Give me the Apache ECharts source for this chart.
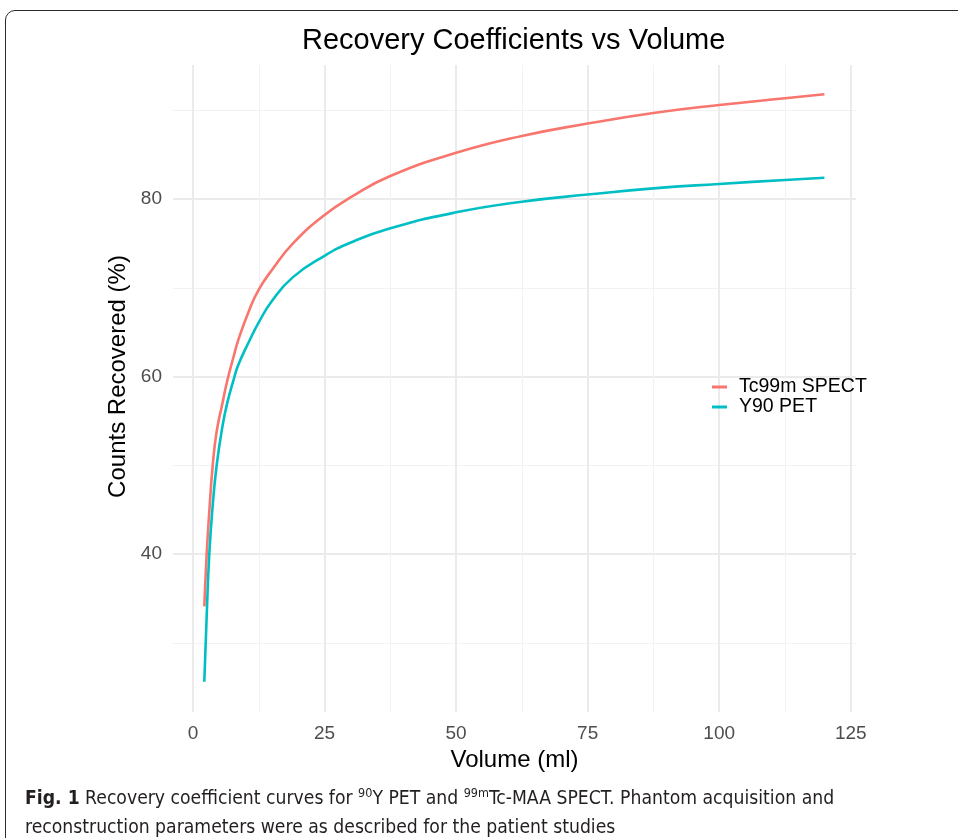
<!DOCTYPE html>
<html>
<head>
<meta charset="utf-8">
<script src="https://cdn.jsdelivr.net/npm/echarts@6/dist/echarts.min.js"></script>
<style>
  html, body { margin: 0; padding: 0; background: #fff; overflow: hidden; }
  .frame {
    position: absolute; left: 5px; top: 10px; width: 1000px; height: 900px;
    border: 1.5px solid #2b2b2b; border-radius: 10px;
  }
  #chart { position: absolute; left: 0; top: 0; width: 958px; height: 838px; }
  .caption {
    position: absolute; left: 25px; top: 783px;
    font-family: 'Liberation Sans Narrow', 'DejaVu Sans Condensed', 'Liberation Sans', sans-serif;
    font-stretch: condensed;
    font-size: 19.2px; line-height: 29px; color: #231f20; white-space: nowrap;
  }
  .caption b { font-weight: bold; }
  .caption sup { font-size: 12.5px; vertical-align: 7px; line-height: 0; }
</style>
</head>
<body>
<div class="frame"></div>
<div id="chart"></div>
<div class="caption"><b>Fig. 1</b> Recovery coefficient curves for <sup>90</sup>Y PET and <sup>99m</sup>Tc-MAA SPECT. Phantom acquisition and<br>reconstruction parameters were as described for the patient studies</div>
<script>
// volume (ml) and counts recovered (%)
const volumes = [2.15, 2.6, 3.1, 3.75, 4.5, 5.6, 6.5, 7.7, 8.6, 10.7, 12.5, 15, 19, 25, 30, 37.5, 50, 62.5, 75, 87.5, 100, 112.5, 120]
const tcSpect = [34.1, 40, 44.8, 50, 53.8, 57, 59.5, 62.2, 64.1, 67.5, 69.8, 72.0, 75.0, 78.2, 80.2, 82.6, 85.2, 87.1, 88.5, 89.7, 90.6, 91.35, 91.8]
const y90Pet = [25.6, 33, 40, 45.5, 50, 54.4, 57, 59.6, 61.3, 64.0, 66.1, 68.5, 71.2, 73.6, 75.1, 76.7, 78.5, 79.7, 80.5, 81.2, 81.7, 82.15, 82.4]

const seriesNames = ['Tc99m SPECT', 'Y90 PET']
const xTicks = [0, 25, 50, 75, 100, 125]
const xMinorTicks = [12.5, 37.5, 62.5, 87.5, 112.5]
const yTicks = [40, 60, 80]
const yMinorTicks = [30, 50, 70, 90]

const chart = echarts.init(document.getElementById('chart'))
const font = "'Liberation Sans', Arial, sans-serif"
const gridMajor = '#ebebeb'
const gridMinor = '#f2f2f2'

function axisPair(min, max, major, minor, isX, name) {
  const base = {
    type: 'value', min: min, max: max,
    axisLine: { show: false },
    splitLine: { show: true }
  }
  return [
    Object.assign({}, base, {
      name: name,
      nameLocation: 'middle',
      nameGap: isX ? 35 : 32,
      // the y title sits a little above the panel centre in the original
      nameTextStyle: { fontFamily: font, fontSize: 24, color: '#000', padding: isX ? 0 : [0, 0, 0, 24] },
      axisTick: { show: false, customValues: major },
      axisLabel: { customValues: major, margin: isX ? 12 : 11, fontFamily: font, fontSize: 19, color: '#4d4d4d' },
      splitLine: { show: true, lineStyle: { color: gridMajor, width: 2 } }
    }),
    Object.assign({}, base, {
      axisTick: { show: false, customValues: minor },
      axisLabel: { show: false },
      splitLine: { show: true, lineStyle: { color: gridMinor, width: 1 } }
    })
  ]
}

const pairs = (ys) => volumes.map((v, i) => [v, ys[i]])

chart.setOption({
  animation: false,
  title: {
    text: 'Recovery Coefficients vs Volume',
    left: 297, top: 21,
    textStyle: { fontFamily: font, fontSize: 29, fontWeight: 'normal', color: '#000' }
  },
  grid: { left: 173, right: 102, top: 65, bottom: 126, outerBoundsMode: 'none' },
  legend: {
    data: seriesNames,
    orient: 'vertical',
    left: 707, top: 372,
    itemWidth: 15, itemHeight: 3, itemGap: 0,
    icon: 'rect',
    textStyle: { fontFamily: font, fontSize: 19.5, lineHeight: 18, color: '#000', padding: [0, 0, 0, 7] }
  },
  xAxis: axisPair(-3.8, 126, xTicks, xMinorTicks, true, 'Volume (ml)'),
  yAxis: axisPair(22.2, 95.1, yTicks, yMinorTicks, false, 'Counts Recovered (%)'),
  series: [
    {
      name: seriesNames[0], type: 'line', data: pairs(tcSpect),
      showSymbol: false, smooth: true,
      lineStyle: { color: '#f8766d', width: 2.6 }, itemStyle: { color: '#f8766d' }
    },
    {
      name: seriesNames[1], type: 'line', data: pairs(y90Pet),
      showSymbol: false, smooth: true,
      lineStyle: { color: '#00bfc4', width: 2.6 }, itemStyle: { color: '#00bfc4' }
    }
  ]
})
</script>
</body>
</html>
